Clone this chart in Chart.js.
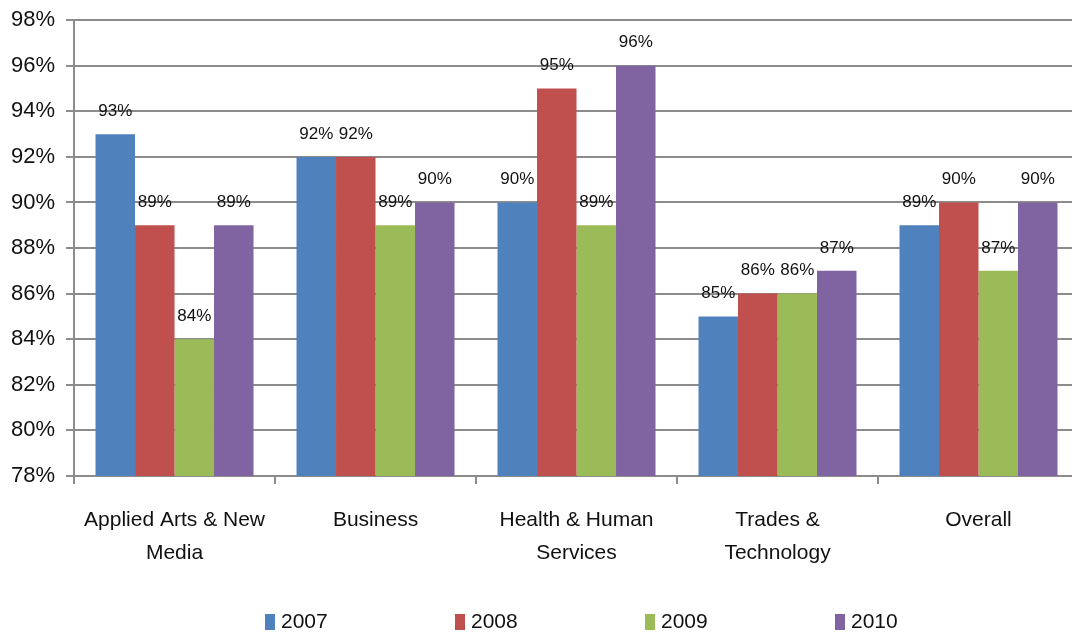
<!DOCTYPE html>
<html lang="en">
<head>
<meta charset="UTF-8">
<title>Graduate satisfaction</title>
<script src="https://cdn.jsdelivr.net/npm/chart.js"></script>
<style>
  html, body { margin: 0; padding: 0; background: #fff; overflow: hidden; }
  .wrap { position: relative; width: 1080px; height: 638px; margin-top: -4px; }
</style>
</head>
<body>
<div class="wrap">
  <canvas id="chart"></canvas>
</div>
<script>
// data
var categories = [
  ['Applied Arts & New', 'Media'],
  'Business',
  ['Health & Human', 'Services'],
  ['Trades &', 'Technology'],
  'Overall'
];
var seriesNames = ['2007', '2008', '2009', '2010'];
var values2007 = [93, 92, 90, 85, 89];
var values2008 = [89, 92, 95, 86, 90];
var values2009 = [84, 89, 89, 86, 87];
var values2010 = [89, 90, 96, 87, 90];
var colors = ['#4F81BD', '#C0504D', '#9BBB59', '#8064A2'];

var FONT = '"Liberation Sans Narrow", "Liberation Sans", sans-serif';
var gridColor = '#8c8c8c';

// labels above each bar
var barLabels = {
  id: 'barLabels',
  afterDatasetsDraw: function (chart) {
    var ctx = chart.ctx;
    ctx.save();
    ctx.font = '17px ' + FONT;
    ctx.fillStyle = '#111';
    ctx.textAlign = 'center';
    ctx.textBaseline = 'middle';
    chart.data.datasets.forEach(function (ds, i) {
      chart.getDatasetMeta(i).data.forEach(function (bar, j) {
        ctx.fillText(ds.data[j] + '%', bar.x, bar.y - 23);
      });
    });
    ctx.restore();
  }
};

// legend along the bottom
var bottomLegend = {
  id: 'bottomLegend',
  afterDraw: function (chart) {
    var ctx = chart.ctx;
    var y = 626;
    var x0 = 265, step = 190;
    ctx.save();
    ctx.font = '21px ' + FONT;
    ctx.textBaseline = 'middle';
    ctx.textAlign = 'left';
    chart.data.datasets.forEach(function (ds, i) {
      var x = x0 + i * step;
      ctx.fillStyle = ds.backgroundColor;
      ctx.fillRect(x, y - 8, 10, 16);
      ctx.fillStyle = '#111';
      ctx.fillText(ds.label, x + 16, y);
    });
    ctx.restore();
  }
};

var allValues = [values2007, values2008, values2009, values2010];
var datasets = seriesNames.map(function (name, i) {
  return {
    label: name,
    data: allValues[i],
    backgroundColor: colors[i],
    borderWidth: 0,
    categoryPercentage: 0.786,
    barPercentage: 1.0
  };
});

new Chart(document.getElementById('chart').getContext('2d'), {
  type: 'bar',
  data: { labels: categories, datasets: datasets },
  plugins: [barLabels, bottomLegend],
  options: {
    responsive: true,
    maintainAspectRatio: false,
    animation: false,
    layout: { padding: { top: 2, left: 0, right: 1, bottom: 45 } },
    plugins: {
      legend: { display: false },
      tooltip: { enabled: false }
    },
    scales: {
      x: {
        grid: {
          offset: true,
          drawOnChartArea: false,
          color: gridColor,
          lineWidth: 2,
          tickLength: 8
        },
        border: { color: gridColor, width: 2 },
        ticks: {
          font: { family: FONT, size: 21, lineHeight: 1.55 },
          color: '#111',
          padding: 20,
          maxRotation: 0,
          autoSkip: false
        }
      },
      y: {
        min: 78,
        max: 98,
        grid: { color: gridColor, lineWidth: 2, tickLength: 8 },
        border: { color: gridColor, width: 2 },
        ticks: {
          stepSize: 2,
          font: { family: FONT, size: 22 },
          color: '#111',
          padding: 11,
          callback: function (v) { return v + '%'; }
        }
      }
    }
  }
});
</script>
</body>
</html>
